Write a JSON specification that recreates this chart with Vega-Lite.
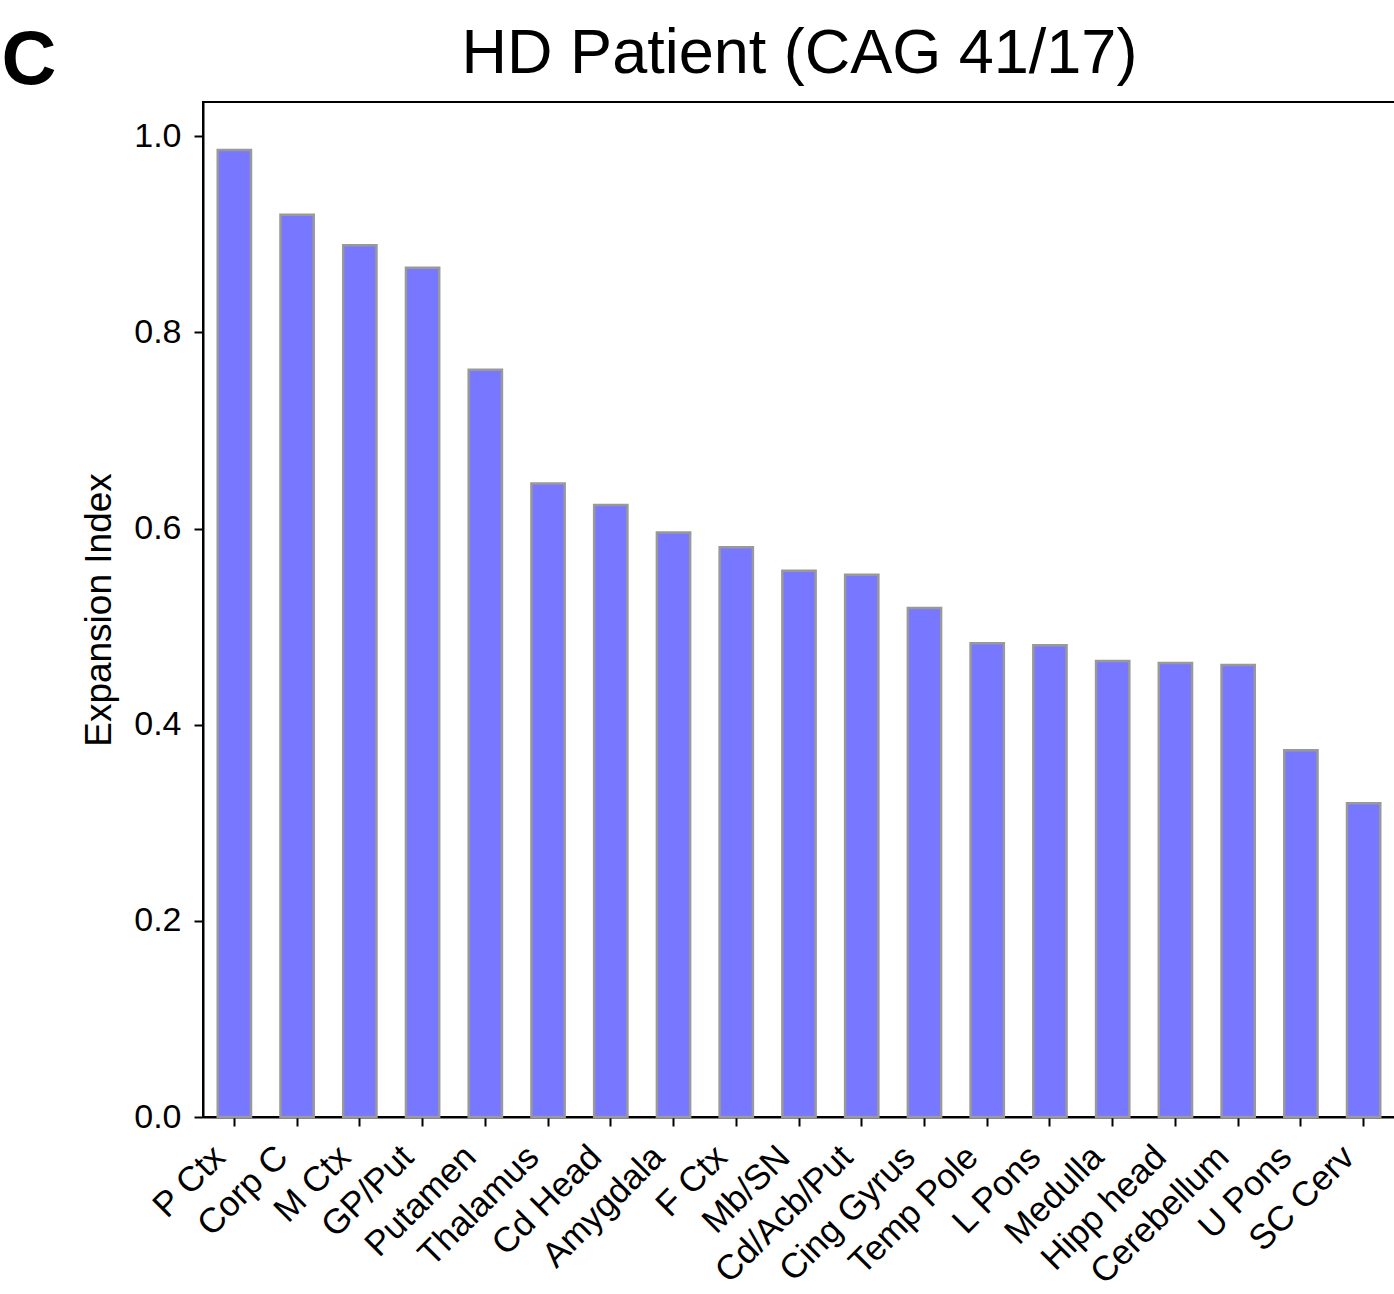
{
  "$schema": "https://vega.github.io/schema/vega-lite/v6.json",
  "width": 1192,
  "height": 1015,
  "autosize": {"type": "none"},
  "padding": {"left": 203, "top": 102, "right": 0, "bottom": 177},
  "background": "white",
  "config": {
    "view": {"stroke": "black", "strokeWidth": 2},
    "font": "Liberation Sans"
  },
  "data": {
    "values": [
      {"region": "P Ctx", "index": 0.986},
      {"region": "Corp C", "index": 0.920},
      {"region": "M Ctx", "index": 0.889},
      {"region": "GP/Put", "index": 0.866},
      {"region": "Putamen", "index": 0.762},
      {"region": "Thalamus", "index": 0.646},
      {"region": "Cd Head", "index": 0.624},
      {"region": "Amygdala", "index": 0.596},
      {"region": "F Ctx", "index": 0.581},
      {"region": "Mb/SN", "index": 0.557},
      {"region": "Cd/Acb/Put", "index": 0.553},
      {"region": "Cing Gyrus", "index": 0.519},
      {"region": "Temp Pole", "index": 0.483},
      {"region": "L Pons", "index": 0.481},
      {"region": "Medulla", "index": 0.465},
      {"region": "Hipp head", "index": 0.463},
      {"region": "Cerebellum", "index": 0.461},
      {"region": "U Pons", "index": 0.374},
      {"region": "SC Cerv", "index": 0.320}
    ]
  },
  "resolve": {"axis": {"x": "independent", "y": "independent"}},
  "layer": [
    {
      "mark": {"type": "bar", "color": "#7777ff", "stroke": "#999999", "strokeWidth": 2.5},
      "encoding": {
        "x": {
          "field": "region",
          "type": "nominal",
          "sort": null,
          "scale": {"paddingInner": 0.47, "paddingOuter": 0.235},
          "axis": {
            "orient": "bottom",
            "title": null,
            "labelAngle": -45,
            "labelAlign": "right",
            "labelBaseline": "middle",
            "labelFontSize": 35,
            "labelColor": "black",
            "labelPadding": 25,
            "labelOffset": -15,
            "tickSize": 9,
            "tickWidth": 2,
            "tickColor": "black",
            "domainColor": "black",
            "domainWidth": 2,
            "labelOverlap": false
          }
        },
        "y": {
          "field": "index",
          "type": "quantitative",
          "scale": {"domain": [0, 1.035], "nice": false},
          "axis": {
            "orient": "left",
            "title": "Expansion Index",
            "titleFontSize": 37,
            "titleFontWeight": "normal",
            "titleColor": "black",
            "titlePadding": 15,
            "values": [0, 0.2, 0.4, 0.6, 0.8, 1.0],
            "format": ".1f",
            "labelFontSize": 34,
            "labelColor": "black",
            "labelPadding": 13,
            "tickSize": 9,
            "tickWidth": 2,
            "tickColor": "black",
            "domainColor": "black",
            "domainWidth": 2,
            "grid": false
          }
        }
      }
    },
    {
      "mark": {"type": "bar", "opacity": 0},
      "encoding": {
        "x": {
          "field": "region",
          "type": "nominal",
          "sort": null,
          "axis": {
            "orient": "top",
            "title": "HD Patient (CAG 41/17)",
            "labels": false,
            "ticks": false,
            "domain": false,
            "grid": false,
            "titleFontSize": 63,
            "titleFontWeight": "normal",
            "titleColor": "black",
            "titleBaseline": "alphabetic",
            "titleY": -30
          }
        },
        "y": {
          "field": "index",
          "type": "quantitative",
          "axis": {
            "orient": "right",
            "title": "C",
            "labels": false,
            "ticks": false,
            "domain": false,
            "grid": false,
            "titleAngle": 0,
            "titleFontSize": 76,
            "titleFontWeight": "bold",
            "titleColor": "black",
            "titleAlign": "left",
            "titleBaseline": "alphabetic",
            "titleX": -1394,
            "titleY": -19
          }
        }
      }
    }
  ]
}
